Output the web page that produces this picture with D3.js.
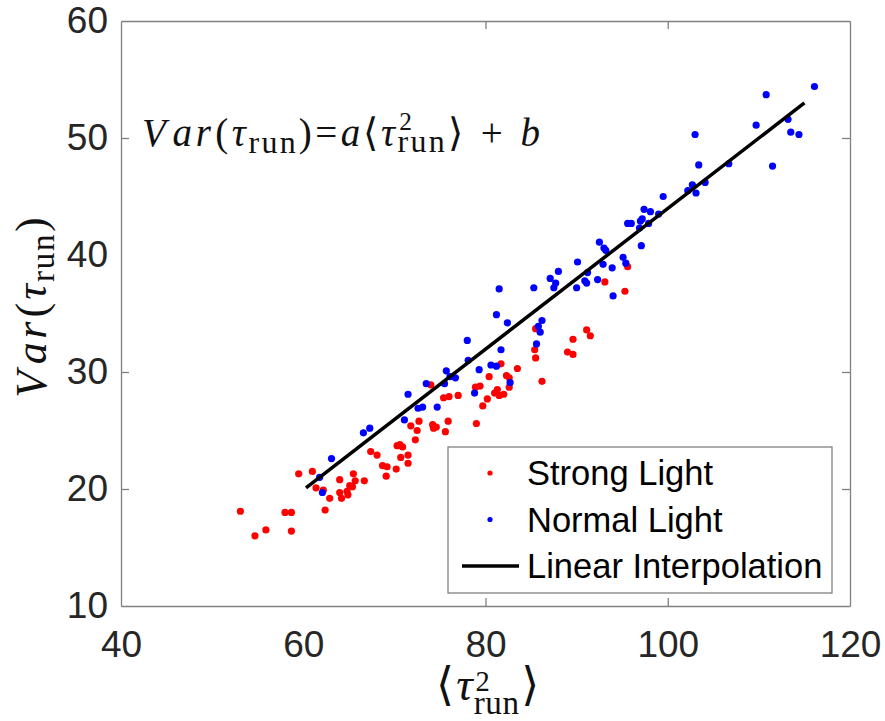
<!DOCTYPE html>
<html>
<head>
<meta charset="utf-8">
<script src="https://cdn.jsdelivr.net/npm/d3@7"></script>
<style>
body { margin: 0; background: #fff; }
.axis path, .axis line { stroke: #808080; stroke-width: 1.3px; }
.axis text { font-family: "Liberation Sans", Arial, sans-serif; font-size: 37px; fill: #262626; }
.math { font-family: "Liberation Serif", "DejaVu Serif", serif; fill: #111; }
.legend text { font-family: "Liberation Sans", Arial, sans-serif; font-size: 34.5px; fill: #000; }
</style>
</head>
<body>
<svg id="chart" width="885" height="721"></svg>
<script>
// values: [<tau_run^2>, Var(tau_run)]
const strongLight = [
  [53.1,18.1],[54.7,16.0],[55.9,16.5],[58.0,18.0],[58.7,18.0],[58.7,16.4],[59.5,21.3],[61.0,21.5],
  [61.4,20.1],[62.2,19.9],[62.4,18.2],[62.9,19.2],[64.0,20.8],[64.0,19.7],[64.2,19.2],[64.8,19.8],
  [65.1,20.3],[65.4,20.2],[64.9,19.5],[65.5,21.3],[65.7,20.7],[66.7,20.7],[67.4,23.2],[68.1,22.9],
  [68.7,22.0],[69.2,21.9],[69.1,21.1],[70.2,21.7],[70.3,23.7],[70.6,23.8],[70.9,23.6],[70.7,22.7],
  [71.5,22.9],[71.5,22.2],[71.8,25.4],[72.5,25.0],[72.7,25.8],[72.3,24.2],[74.2,25.5],[74.3,25.2],
  [74.6,25.3],[75.6,24.9],[75.9,25.8],[75.4,27.8],[76.0,27.9],[77.0,28.0],[74.0,28.9],
  [95.6,39.0],[93.1,37.7],[95.3,36.9],[85.5,33.7],[85.4,31.9],[85.5,31.2],[91.1,33.6],[91.5,33.1],
  [89.6,32.8],[89.0,31.7],[89.6,31.5],[86.2,29.2],[83.5,30.3],[81.7,30.7],[82.3,29.7],[82.6,29.5],
  [82.6,28.7],[80.4,29.6],[81.3,28.5],[81.0,28.2],[81.5,28.0],[82.0,28.1],[80.2,27.7],[79.7,27.1],
  [79.4,28.8],[78.9,28.7],[79.0,25.6]
];
const normalLight = [
  [63.1,22.6],[61.8,21.0],[62.1,19.7],[66.6,24.8],[67.3,25.2],[71.1,25.9],[71.5,28.1],[72.6,26.9],
  [73.1,27.0],[74.7,27.0],[73.5,29.0],[75.5,29.0],
  [88.0,38.6],[87.1,38.0],[87.7,37.6],[87.5,37.2],[85.3,37.2],[81.5,37.1],[81.2,34.9],[82.4,34.2],
  [86.2,34.4],[85.8,33.9],[86.0,33.4],[85.6,32.4],[78.0,32.7],[78.1,31.0],[81.7,31.9],[80.6,30.6],
  [81.2,30.5],[79.3,30.2],[75.7,30.1],[76.1,29.6],[76.7,29.5],[82.7,29.1],[78.8,28.2],[90.1,39.4],
  [90.0,37.2],
  [116.1,54.4],[110.8,53.7],[109.7,51.1],[113.2,51.6],[113.5,50.5],[114.4,50.3],[111.5,47.6],[103.0,50.3],
  [103.4,47.7],[106.7,47.8],[104.1,46.2],[102.7,46.0],[102.2,45.5],[103.1,45.3],[99.5,45.0],[97.4,43.9],
  [98.1,43.7],[99.0,43.5],[97.2,43.1],[97.0,42.9],[97.9,42.7],[96.9,42.3],[95.6,42.7],[96.0,42.7],
  [97.1,40.8],[92.5,41.1],[93.0,40.6],[93.2,40.4],[95.1,39.8],[95.4,39.3],[92.9,39.2],[93.9,38.9],
  [91.2,38.5],[90.9,37.8],[91.1,37.6],[92.3,37.9],[94.0,36.5]
];
const fitLine = [[60.3,20.1],[115.0,53.0]];

const xTicks = [40, 60, 80, 100, 120];
const yTicks = [10, 20, 30, 40, 50, 60];
const legendLabels = ['Strong Light', 'Normal Light', 'Linear Interpolation'];
const seriesColors = ['#ff0000', '#0000ff', '#000000'];

const svg = d3.select('#chart');
const margin = {top: 21, right: 35, bottom: 115, left: 121};
const W = 885, H = 721;

const x = d3.scaleLinear().domain([40, 120]).range([margin.left, W - margin.right]);
const y = d3.scaleLinear().domain([10, 60]).range([H - margin.bottom, margin.top]);

// axes box with inward ticks on all sides
svg.append('g').attr('class', 'axis')
	.attr('transform', `translate(0,${y(10)})`)
	.call(d3.axisBottom(x).tickValues(xTicks).tickSize(-8).tickSizeOuter(0).tickPadding(25));
svg.append('g').attr('class', 'axis')
	.attr('transform', `translate(0,${y(60)})`)
	.call(d3.axisTop(x).tickValues(xTicks).tickSize(-8).tickSizeOuter(0).tickFormat(''));
svg.append('g').attr('class', 'axis')
	.attr('transform', `translate(${x(40)},0)`)
	.call(d3.axisLeft(y).tickValues(yTicks).tickSize(-8).tickSizeOuter(0).tickPadding(13));
svg.append('g').attr('class', 'axis')
	.attr('transform', `translate(${x(120)},0)`)
	.call(d3.axisRight(y).tickValues(yTicks).tickSize(-8).tickSizeOuter(0).tickFormat(''));
svg.selectAll('.axis .tick').filter(d => d === 40 || d === 120 || d === 10 || d === 60).select('line').remove();

// points: strong first, normal on top
svg.append('g').selectAll('circle').data(strongLight).join('circle')
	.attr('cx', d => x(d[0])).attr('cy', d => y(d[1])).attr('r', 3.6).attr('fill', seriesColors[0]);
svg.append('g').selectAll('circle').data(normalLight).join('circle')
	.attr('cx', d => x(d[0])).attr('cy', d => y(d[1])).attr('r', 3.6).attr('fill', seriesColors[1]);

svg.append('path')
	.attr('d', d3.line().x(d => x(d[0])).y(d => y(d[1]))(fitLine))
	.attr('stroke', seriesColors[2]).attr('stroke-width', 3.5).attr('fill', 'none');

// LaTeX-ish math as one <text> of tspans, laid out left to right; returns width
function mathText(text, parts, size, opt) {
	const o = Object.assign({ls: 0.06, sub: 0.8, subDy: 0.18, sup: 0.65, supDy: -0.4, stackSubDy: 0.17}, opt);
	let cx = 0;
	function put(t, px, py, fs, it) {
		const el = text.append('tspan').attr('x', px).attr('y', py).attr('font-size', fs)
			.attr('letter-spacing', (o.ls * fs) + 'px')
			.attr('font-style', it ? 'italic' : 'normal').text(t);
		return el.node().getComputedTextLength();
	}
	parts.forEach(p => {
		if (p.sup !== undefined) {
			const a = put(p.sup, cx + 0.04 * size, o.supDy * size, o.sup * size, false);
			const b = put(p.sub, cx, o.stackSubDy * size, o.sub * size, false);
			cx += Math.max(a, b) + 0.03 * size;
		} else if (p.sub !== undefined) {
			cx += put(p.sub, cx, o.subDy * size, o.sub * size, false) + 0.02 * size;
		} else {
			cx += put(p.t, cx, 0, size, p.it) + (p.gap || 0) * size;
		}
	});
	return cx;
}

const varParts = [
	{t: 'V', it: true, gap: 0.1}, {t: 'a', it: true, gap: 0.03}, {t: 'r', it: true, gap: 0.04},
	{t: '(', gap: 0.02}, {t: 'τ', it: true}, {sub: 'run'}, {t: ')', gap: 0.02}
];

// annotation
const ann = svg.append('text').attr('class', 'math').attr('transform', 'translate(142,145.5)');
mathText(ann, varParts.concat([
	{t: '=', gap: 0.02}, {t: 'a', it: true}, {t: '⟨'}, {t: 'τ', it: true}, {sup: '2', sub: 'run'},
	{t: '⟩', gap: 0.38}, {t: '+', gap: 0.38}, {t: 'b', it: true}
]), 39, {ls: 0.07, sub: 0.82});

// y label
const yl = svg.append('text').attr('class', 'math');
const ylw = mathText(yl, varParts, 44, {ls: 0.05, sub: 0.75});
yl.attr('transform', `translate(46,${306 + ylw / 2}) rotate(-90)`);

// x label
const xl = svg.append('text').attr('class', 'math');
const xlw = mathText(xl, [{t: '⟨', gap: 0.03}, {t: 'τ', it: true}, {sup: '2', sub: 'run'}, {t: '⟩'}], 46,
	{ls: 0.02, sub: 0.72, sup: 0.62, supDy: -0.2, stackSubDy: 0.3});
xl.attr('transform', `translate(${488 - xlw / 2},700)`);

// legend
const lg = svg.append('g').attr('class', 'legend');
lg.append('rect').attr('x', 448).attr('y', 447).attr('width', 384).attr('height', 146)
	.attr('fill', '#fff').attr('stroke', '#808080').attr('stroke-width', 1.3);
legendLabels.forEach((lab, i) => {
	const ly = 473 + i * 46.5;
	if (i < 2) {
		lg.append('circle').attr('cx', 490).attr('cy', ly).attr('r', 2.6).attr('fill', seriesColors[i]);
	} else {
		lg.append('line').attr('x1', 462).attr('x2', 519).attr('y1', ly).attr('y2', ly)
			.attr('stroke', seriesColors[i]).attr('stroke-width', 3.5);
	}
	lg.append('text').attr('x', 527).attr('y', ly).attr('dy', '0.36em').text(lab);
});
</script>
</body>
</html>
